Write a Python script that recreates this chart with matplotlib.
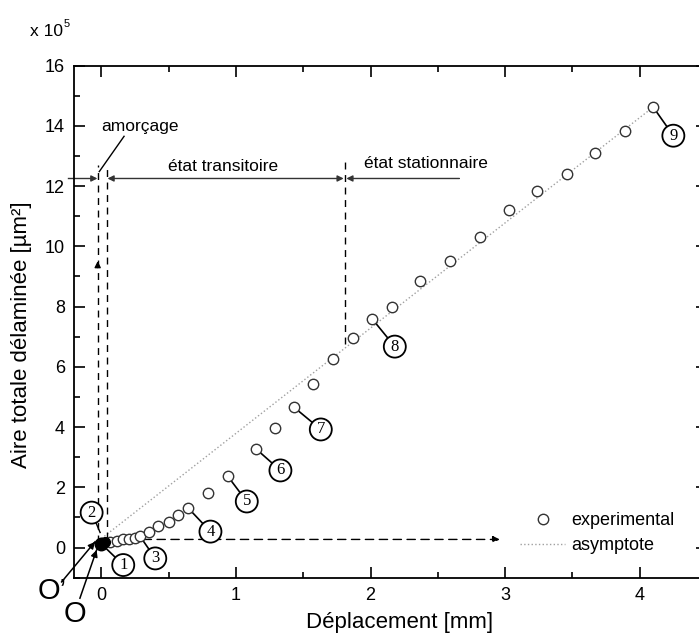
import matplotlib
matplotlib.use("Agg")
from matplotlib import pyplot as plt
from matplotlib.ticker import MultipleLocator

plt.rcParams['font.family'] = ['Liberation Sans', 'DejaVu Sans']

# points experimentaux (x en mm, aire en 1e5 µm²)
depl = [0.0, 0.063, 0.113, 0.162, 0.207, 0.249, 0.286, 0.355, 0.42, 0.50,
        0.57, 0.645, 0.79, 0.94, 1.15, 1.29, 1.43, 1.57, 1.72, 1.87, 2.01,
        2.16, 2.37, 2.59, 2.81, 3.03, 3.24, 3.46, 3.67, 3.89, 4.10]
aire = [0.12, 0.19, 0.23, 0.27, 0.29, 0.33, 0.38, 0.53, 0.72, 0.86,
        1.08, 1.31, 1.80, 2.36, 3.27, 3.97, 4.66, 5.42, 6.25, 6.97, 7.60,
        7.97, 8.86, 9.50, 10.30, 11.22, 11.84, 12.39, 13.08, 13.81, 14.62]

asym_x = [0.0, 4.10]
asym_y = [0.30, 14.62]

# repères numérotés : (indice du point, position du cercle)
reperes = {1: (0, 0.162, -0.58), 3: (6, 0.40, -0.36), 4: (11, 0.81, 0.53),
           5: (13, 1.08, 1.53), 6: (14, 1.33, 2.56), 7: (16, 1.63, 3.92),
           8: (20, 2.18, 6.67), 9: (30, 4.25, 13.67)}

fig = plt.figure(figsize=(6.99, 6.35), dpi=100)
ax = fig.add_axes([74/699, (635-577.7)/635, (707-74)/699, (577.7-65.5)/635])

l_asym, = ax.plot(asym_x, asym_y, linestyle=':', color='#a0a0a0', lw=1.0, zorder=2)
l_exp, = ax.plot(depl[1:], aire[1:], 'o', mfc='white', mec='#333333', mew=1.0, ms=7.5,
                 linestyle='none', zorder=4)
ax.plot(depl[:1], aire[:1], 'o', color='black', ms=9, zorder=5)
ax.plot([0.01, 0.03], [0.15, 0.2], 'o', color='black', ms=7, zorder=5)

# lignes pointillées et flèches
dash = dict(color='black', lw=1.0, linestyle=(0, (5, 4)))
ax.plot([-0.028, -0.028], [0.2, 12.7], **dash, zorder=3)
ax.plot([0.04, 0.04], [0.3, 12.7], **dash, zorder=3)
ax.plot([1.81, 1.81], [6.75, 12.85], **dash, zorder=3)
ax.annotate('', xy=(-0.028, 9.6), xytext=(-0.028, 9.2),
            arrowprops=dict(arrowstyle='-|>', color='black', lw=1.0, mutation_scale=9))
ax.annotate('', xy=(2.96, 0.27), xytext=(0.0, 0.27),
            arrowprops=dict(arrowstyle='-|>', color='black', lw=1.0, linestyle=(0, (6, 4)),
                            mutation_scale=10, shrinkA=0, shrinkB=0))

arr = dict(color='#333333', lw=1.0, mutation_scale=9, shrinkA=0, shrinkB=0)
ax.plot([-0.25, -0.06], [12.25, 12.25], color='#333333', lw=1.0, clip_on=False)
ax.annotate('', xy=(-0.03, 12.25), xytext=(-0.08, 12.25),
            arrowprops=dict(arrowstyle='-|>', **arr))
ax.annotate('', xy=(0.045, 12.25), xytext=(1.80, 12.25),
            arrowprops=dict(arrowstyle='<|-|>', **arr))
ax.annotate('', xy=(1.82, 12.25), xytext=(2.66, 12.25),
            arrowprops=dict(arrowstyle='-|>', **arr))

ax.text(0.286, 13.98, 'amorçage', fontsize=12.5, ha='center', va='center')
ax.plot([0.168, -0.016], [13.65, 12.48], color='black', lw=1.0)
ax.text(0.903, 12.65, 'état transitoire', fontsize=12.5, ha='center', va='center')
ax.text(2.41, 12.75, 'état stationnaire', fontsize=12.5, ha='center', va='center')

# cercles numérotés
for num, (i, cx, cy) in reperes.items():
    ax.plot([depl[i], cx], [aire[i], cy], color='black', lw=1.2, zorder=3)
    ax.text(cx, cy, str(num), family='Liberation Serif', fontsize=12,
            ha='center', va='center', zorder=6,
            bbox=dict(boxstyle='circle,pad=0.18', fc='white', ec='black', lw=1.3))
ax.plot([-0.073, -0.01], [1.16, 0.5], color='black', lw=1.0, zorder=3)
ax.text(-0.073, 1.16, '2', family='Liberation Serif', fontsize=12,
        ha='center', va='center', zorder=6,
        bbox=dict(boxstyle='circle,pad=0.18', fc='white', ec='black', lw=1.3))

# origines O et O'
for start, end in [((-0.296, -1.14), (-0.048, 0.19)), ((-0.16, -1.68), (-0.036, -0.08))]:
    ax.plot([start[0], end[0]], [start[1], end[1]], color='black', lw=1.1,
            clip_on=False, zorder=6)
    mid = (end[0] - 0.15 * (end[0] - start[0]), end[1] - 0.15 * (end[1] - start[1]))
    ax.annotate('', xy=end, xytext=mid,
                arrowprops=dict(arrowstyle='-|>', color='black', lw=1.0,
                                mutation_scale=10, shrinkA=0, shrinkB=0))
ax.text(-0.37, -1.45, "O\u2019", fontsize=21, ha='center', va='center', clip_on=False)
ax.text(-0.197, -2.22, "O", fontsize=21, ha='center', va='center', clip_on=False)

ax.set_xlim(-0.204, 4.5)
ax.set_ylim(-1, 16)
ax.xaxis.set_major_locator(MultipleLocator(1))
ax.xaxis.set_minor_locator(MultipleLocator(0.5))
ax.yaxis.set_major_locator(MultipleLocator(2))
ax.yaxis.set_minor_locator(MultipleLocator(1))
ax.tick_params(which='both', direction='in', top=True, right=True, width=1.2,
               labelsize=13, pad=6.5)
ax.tick_params(which='major', length=8)
ax.tick_params(which='minor', length=4.3)
for s in ax.spines.values():
    s.set_linewidth(1.3)

ax.set_xlabel('Déplacement [mm]', fontsize=16)
ax.set_ylabel('Aire totale délaminée [µm²]', fontsize=16)
ax.xaxis.set_label_coords(0.515, -0.067)
ax.yaxis.set_label_coords(-0.066, 0.474)

fig.text(30/699, 1-36/635, 'x 10', fontsize=12.5, ha='left', va='baseline')
fig.text(64/699, 1-27/635, '5', fontsize=8, ha='left', va='baseline')

ax.legend([l_exp, l_asym], ['experimental', 'asymptote'],
          loc='upper left', bbox_to_anchor=((520-74)/633, (577.7-512)/512.2),
          frameon=False, fontsize=13, handlelength=2.5, handletextpad=0.35,
          labelspacing=0.45, borderpad=0, borderaxespad=0)

fig.savefig('out.png', dpi=100)
